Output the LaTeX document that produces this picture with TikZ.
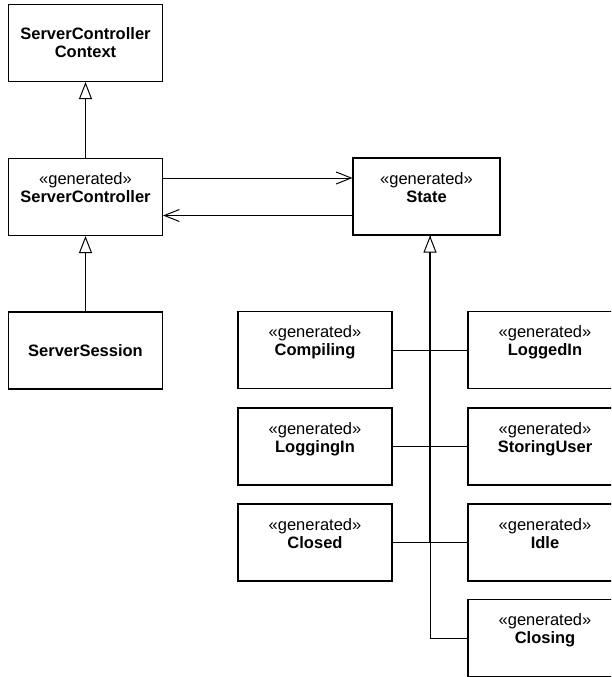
\documentclass[tikz,border=0pt]{standalone}
\usepackage{fontspec}
\setmainfont{Liberation Sans}
\usetikzlibrary{arrows.meta}
\begin{document}
\begin{tikzpicture}[x=1pt,y=-1pt,
  cls/.style={draw, line width=1.1pt, inner sep=0pt, minimum width=154pt, minimum height=77pt, align=center, font=\fontsize{16.5}{18}\selectfont},
  gen/.style={-{Triangle[open,fill=white,length=17pt,width=13pt,line width=1pt]}, line width=1pt},
  assoc/.style={-{Straight Barb[length=15pt,width=12pt,line width=1pt]}, line width=1pt},
  link/.style={line width=0.9pt}]
\useasboundingbox (0,0) rectangle (611,677);
\clip (0,0) rectangle (611,677);
% boxes
\node[cls] (ctx) at (85.5,43) {\textbf{ServerController}\\\textbf{Context}};
\node[cls] (sc) at (85.5,197) {«generated»\\\textbf{ServerController}\\\mbox{}};
\node[cls] (ss) at (85.5,350.5) {\textbf{ServerSession}};
\node[cls, minimum width=147pt] (state) at (426.5,196.5) {«generated»\\\textbf{State}\\\mbox{}};
\node[cls] (compiling) at (315,350) {«generated»\\\textbf{Compiling}\\\mbox{}};
\node[cls] (loggingin) at (315,446.5) {«generated»\\\textbf{LoggingIn}\\\mbox{}};
\node[cls] (closed) at (315,542.5) {«generated»\\\textbf{Closed}\\\mbox{}};
\node[cls] (loggedin) at (545,350) {«generated»\\\textbf{LoggedIn}\\\mbox{}};
\node[cls] (storinguser) at (545,446.5) {«generated»\\\textbf{StoringUser}\\\mbox{}};
\node[cls] (idle) at (545,542.5) {«generated»\\\textbf{Idle}\\\mbox{}};
\node[cls] (closing) at (545,638) {«generated»\\\textbf{Closing}\\\mbox{}};
% generalizations on the left
\draw[gen] (sc.north) -- (ctx.south);
\draw[gen] (ss.north) -- (sc.south);
% associations
\coordinate (a1) at ([yshift=19pt]sc.east);
\coordinate (a2) at ([yshift=-19pt]state.west);
\draw[assoc] (a1) -- (a1 -| state.west);
\draw[assoc] (a2) -- (a2 -| sc.east);
% state hierarchy
\coordinate (st) at ([xshift=3.5pt]state.south);
\draw[link] (compiling.east) -- (loggedin.west);
\draw[link] (loggingin.east) -- (storinguser.west);
\draw[link] (closed.east) -- (idle.west);
\draw[link] (closing.west) -| (st);
\draw[gen, line width=1.8pt] (st |- closed.east) -- (st);
\end{tikzpicture}
\end{document}
